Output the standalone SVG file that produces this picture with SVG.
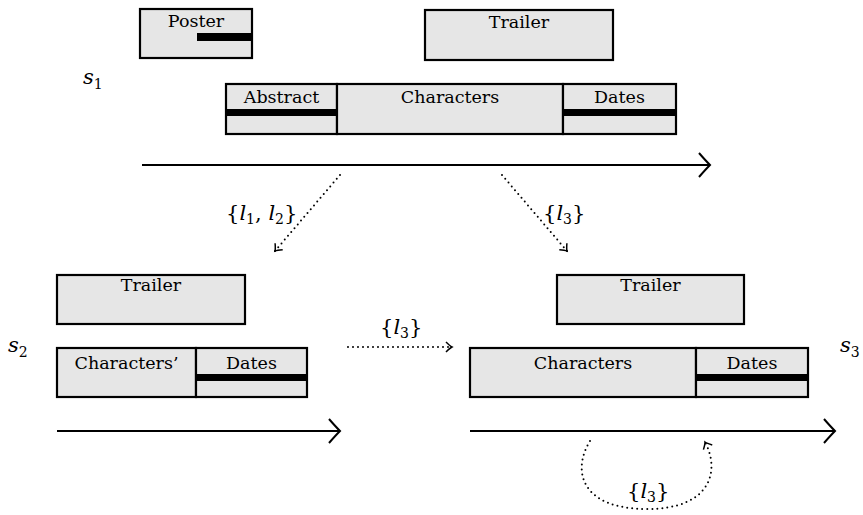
<svg xmlns="http://www.w3.org/2000/svg" width="863" height="515" viewBox="0 0 863 515">
<style>
.box{fill:#e6e6e6;stroke:#000;stroke-width:2.2}
.bar{fill:#000}
.lbl{font-family:"DejaVu Serif","Liberation Serif",serif;font-size:17.5px;text-anchor:middle;fill:#000}
.math{font-family:"DejaVu Serif","Liberation Serif",serif;font-size:21px;fill:#000}
.it{font-style:italic}
.sub{font-size:14px}
.solid{fill:none;stroke:#000;stroke-width:2}
.dot{fill:none;stroke:#000;stroke-width:2;stroke-dasharray:0 5;stroke-linecap:round}
</style>
<defs>
<marker id="big" markerUnits="userSpaceOnUse" markerWidth="16" markerHeight="30" viewBox="0 0 16 30" refX="13" refY="15" orient="auto">
<path d="M2,3 Q9,11 13,15 Q9,19 2,27" fill="none" stroke="#000" stroke-width="2"/>
</marker>
<marker id="small" markerUnits="userSpaceOnUse" markerWidth="12" markerHeight="14" viewBox="0 0 12 14" refX="9" refY="7" orient="auto">
<path d="M3,2 Q7,6 9,7 Q7,8 3,12" fill="none" stroke="#000" stroke-width="1.5"/>
</marker>
</defs>

<!-- State s1 -->
<text class="math it" x="83" y="84">s<tspan class="sub" dy="5" font-style="normal">1</tspan></text>
<g id="poster1">
<rect class="box" x="140" y="9" width="112" height="49"/>
<rect class="bar" x="197" y="33" width="55" height="8"/>
<text class="lbl" x="196" y="27">Poster</text>
</g>
<g id="trailer1">
<rect class="box" x="425" y="10" width="188" height="50"/>
<text class="lbl" x="519" y="28">Trailer</text>
</g>
<g id="abstract1">
<rect class="box" x="226" y="84" width="111" height="50"/>
<rect class="bar" x="226" y="109" width="111" height="7"/>
<text class="lbl" x="281.5" y="103">Abstract</text>
</g>
<g id="characters1">
<rect class="box" x="337" y="84" width="226" height="50"/>
<text class="lbl" x="450" y="103">Characters</text>
</g>
<g id="dates1">
<rect class="box" x="563" y="84" width="113" height="50"/>
<rect class="bar" x="563" y="109" width="113" height="7"/>
<text class="lbl" x="619.5" y="103">Dates</text>
</g>

<!-- State s2 -->
<text class="math it" x="8" y="352">s<tspan class="sub" dy="5" font-style="normal">2</tspan></text>
<g id="trailer2">
<rect class="box" x="57" y="275" width="188" height="49"/>
<text class="lbl" x="151" y="291">Trailer</text>
</g>
<g id="characters2">
<rect class="box" x="57" y="348" width="139" height="49"/>
<text class="lbl" x="126.5" y="369">Characters’</text>
</g>
<g id="dates2">
<rect class="box" x="196" y="348" width="111" height="49"/>
<rect class="bar" x="196" y="374" width="111" height="7"/>
<text class="lbl" x="251.5" y="369">Dates</text>
</g>

<!-- State s3 -->
<text class="math it" x="840" y="352">s<tspan class="sub" dy="5" font-style="normal">3</tspan></text>
<g id="trailer3">
<rect class="box" x="557" y="275" width="187" height="49"/>
<text class="lbl" x="650.5" y="291">Trailer</text>
</g>
<g id="characters3">
<rect class="box" x="470" y="348" width="226" height="49"/>
<text class="lbl" x="583" y="369">Characters</text>
</g>
<g id="dates3">
<rect class="box" x="696" y="348" width="112" height="49"/>
<rect class="bar" x="696" y="374" width="112" height="7"/>
<text class="lbl" x="752" y="369">Dates</text>
</g>

<g id="connectors">
<path class="solid" d="M142,165 H710" marker-end="url(#big)"/>
<path class="solid" d="M57,431 H340" marker-end="url(#big)"/>
<path class="solid" d="M470,431 H835" marker-end="url(#big)"/>
<path class="dot" d="M340,175 L275,251" marker-end="url(#small)"/>
<path class="dot" d="M502,175 L567,251" marker-end="url(#small)"/>
<path class="dot" d="M348,347 H452" marker-end="url(#small)"/>
<path class="dot" d="M590,441 C572,470 580,509 647,509 C712,509 720,470 705,442" marker-end="url(#small)"/>
</g>

<g id="labels">
<text class="math" x="226" y="220">{<tspan class="it">l</tspan><tspan class="sub" dy="4">1</tspan><tspan dy="-4">, </tspan><tspan class="it">l</tspan><tspan class="sub" dy="4">2</tspan><tspan dy="-4">}</tspan></text>
<text class="math" x="543" y="220">{<tspan class="it">l</tspan><tspan class="sub" dy="4">3</tspan><tspan dy="-4">}</tspan></text>
<text class="math" x="380" y="334">{<tspan class="it">l</tspan><tspan class="sub" dy="4">3</tspan><tspan dy="-4">}</tspan></text>
<text class="math" x="627" y="498">{<tspan class="it">l</tspan><tspan class="sub" dy="4">3</tspan><tspan dy="-4">}</tspan></text>
</g>
</svg>
